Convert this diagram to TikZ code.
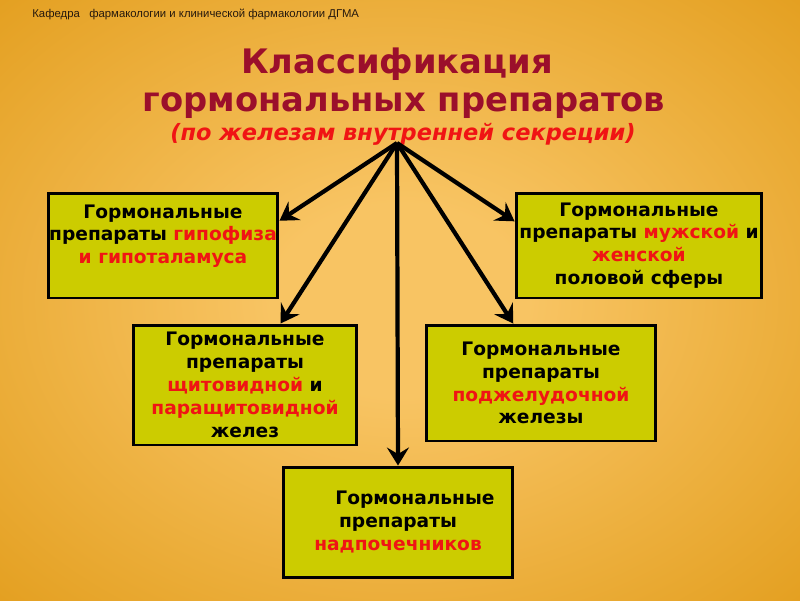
\documentclass[tikz,border=0pt]{standalone}
\usepackage{fontspec}
\setmainfont{DejaVu Sans}
\newfontfamily\hdrfont{Liberation Sans}
\usetikzlibrary{arrows.meta}
\definecolor{bgin}{HTML}{F8C463}
\definecolor{bgout}{HTML}{DC9208}
\definecolor{boxfill}{HTML}{CCCC00}
\definecolor{ttlred}{HTML}{9B0F2B}
\definecolor{hired}{HTML}{F01414}
\pgfdeclareradialshading{glow}{\pgfpoint{0bp}{0bp}}{color(0bp)=(bgin); color(8bp)=(bgin); color(46bp)=(bgout); color(72bp)=(bgout)}
\tikzstyle{gland}=[draw=black, line width=1.7pt, fill=boxfill, inner sep=0pt, align=center, font=\bfseries\fontsize{10.6}{13}\selectfont]
\tikzstyle{feed}=[-{Stealth[length=0.36cm,width=0.44cm,inset=0.13cm]}, line width=2.4pt]
\tikzstyle{ttl}=[anchor=base, inner sep=0pt, text=ttlred, font=\bfseries\fontsize{19.2}{23}\selectfont]
\tikzstyle{subttl}=[anchor=base, inner sep=0pt, text=hired, font=\bfseries\itshape\fontsize{12.8}{15}\selectfont]
\newcommand{\hl}[1]{\textcolor{hired}{#1}}

\begin{document}
\begin{tikzpicture}[x=0.02cm, y=-0.02cm]
  \useasboundingbox (0,0) rectangle (800,600);
  \shade[shading=glow] (0,0) rectangle (800,600);
  \node[anchor=west, inner sep=0pt, text=black!80!brown, font=\hdrfont\fontsize{6.45}{8}\selectfont] (dept) at (32,14) {Кафедра \ \ фармакологии и клинической фармакологии ДГМА};
  \node[ttl] (ttl1) at (397,73) {Классификация};
  \node[ttl] (ttl2) at (404,111) {гормональных препаратов};
  \node[subttl] (ttl3) at (403,140) {(по железам внутренней секреции)};
  \coordinate (src) at (397,143);
  \node[gland, minimum width=4.6cm, minimum height=2.1cm] (pit) at (163,245.5) {Гормональные\\препараты \hl{гипофиза}\\\hl{и гипоталамуса}\\~};
  \node[gland, minimum width=4.92cm, minimum height=2.1cm] (sex) at (639,245.5) {Гормональные\\препараты \hl{мужской} и\\\hl{женской}\\половой сферы};
  \node[gland, minimum width=4.48cm, minimum height=2.4cm] (thyr) at (245,385) {Гормональные\\препараты\\\hl{щитовидной} и\\\hl{паращитовидной}\\желез};
  \node[gland, minimum width=4.6cm, minimum height=2.32cm] (panc) at (541,383) {Гормональные\\препараты\\\hl{поджелудочной}\\железы};
  \node[gland, minimum width=4.6cm, minimum height=2.2cm] (adr) at (398,522) {\hspace*{0.68cm}Гормональные\\препараты\\\hl{надпочечников}};
  \draw[feed] (src) -- (pit.12);
  \draw[feed] (src) -- (sex.169);
  \draw[feed] (src) -- (thyr.60);
  \draw[feed] (src) -- (panc.115);
  \draw[feed] (src) -- (adr.north);
\end{tikzpicture}
\end{document}
